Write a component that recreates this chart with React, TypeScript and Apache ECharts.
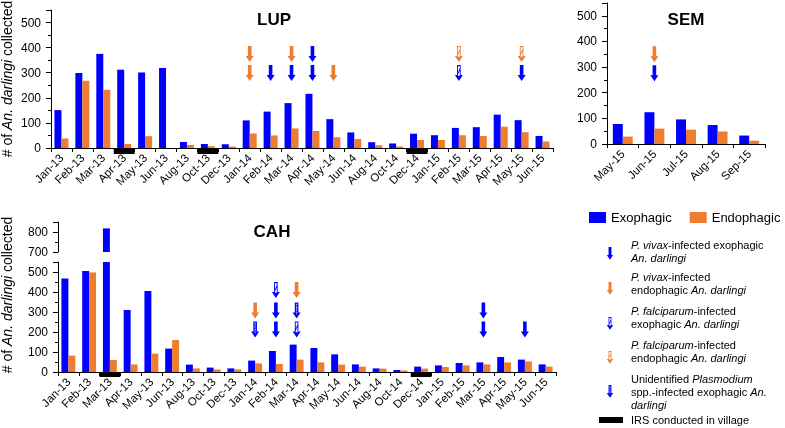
import React, { useEffect, useRef } from 'react';
import * as echarts from 'echarts';

// months shared by the LUP and CAH panels
const months = [
  'Jan-13', 'Feb-13', 'Mar-13', 'Apr-13', 'May-13', 'Jun-13', 'Aug-13', 'Oct-13',
  'Dec-13', 'Jan-14', 'Feb-14', 'Mar-14', 'Apr-14', 'May-14', 'Jun-14', 'Aug-14',
  'Oct-14', 'Dec-14', 'Jan-15', 'Feb-15', 'Mar-15', 'Apr-15', 'May-15', 'Jun-15',
];
const semMonths = ['May-15', 'Jun-15', 'Jul-15', 'Aug-15', 'Sep-15'];

const lupExo = [151, 299, 375, 312, 301, 319, 24, 16, 15, 110, 145, 179, 216, 115, 62, 23, 18, 57, 51, 80, 83, 133, 111, 48];
const lupEndo = [38, 268, 232, 16, 47, 0, 12, 7, 6, 58, 50, 78, 68, 43, 36, 11, 6, 32, 32, 51, 48, 85, 63, 26];
const semExo = [78, 124, 96, 74, 33];
const semEndo = [29, 60, 56, 49, 13];
const cahExo = [468, 505, 818, 310, 405, 117, 37, 22, 18, 57, 105, 137, 120, 88, 38, 18, 10, 27, 33, 45, 48, 75, 62, 38];
const cahEndo = [82, 498, 60, 38, 92, 160, 18, 13, 13, 43, 40, 62, 48, 37, 27, 17, 8, 17, 25, 33, 38, 48, 53, 27];

// months with indoor residual spraying
const lupIrs = ['Apr-13', 'Oct-13', 'Dec-14'];
const cahIrs = ['Mar-13', 'Dec-14'];

// infected mosquitoes: [month, kind, row (0 = top)]
const lupArrows = [
  ['Jan-14', 'vivaxEndo', 0], ['Jan-14', 'vivaxEndo', 1],
  ['Feb-14', 'vivaxExo', 1],
  ['Mar-14', 'vivaxEndo', 0], ['Mar-14', 'vivaxExo', 1],
  ['Apr-14', 'vivaxExo', 0], ['Apr-14', 'vivaxExo', 1],
  ['May-14', 'vivaxEndo', 1],
  ['Feb-15', 'falcEndo', 0], ['Feb-15', 'falcExo', 1],
  ['May-15', 'falcEndo', 0], ['May-15', 'vivaxExo', 1],
];
const semArrows = [['Jun-15', 'vivaxEndo', 0], ['Jun-15', 'vivaxExo', 1]];
const cahArrows = [
  ['Jan-14', 'vivaxEndo', 1], ['Jan-14', 'unidExo', 2],
  ['Feb-14', 'falcExo', 0], ['Feb-14', 'vivaxExo', 1], ['Feb-14', 'vivaxExo', 2],
  ['Mar-14', 'vivaxEndo', 0], ['Mar-14', 'unidExo', 1], ['Mar-14', 'falcExo', 2],
  ['Mar-15', 'vivaxExo', 1], ['Mar-15', 'vivaxExo', 2],
  ['May-15', 'vivaxExo', 2],
];
// value level of each arrow row
const lupRows = [375, 299];
const semRows = [350, 276];
const cahRows = [410, 307, 213];

const BLUE = '#0000ff';
const ORANGE = '#ed7d31';
const FONT = '"Liberation Sans", Arial, sans-serif';

const ARROW = 'M2.2,0L5.8,0L5.8,10L8,10L4,16L0,10L2.2,10Z';
// tiny corner triangles keep the overlay's bounding box equal to the arrow's
const FRAME = 'M0,0L0.15,0L0,0.15ZM8,16L7.85,16L8,15.85Z';
const FALC = FRAME + 'M3.1,1.2L4.9,1.2L4.9,3.2L3.1,7.2ZM4.9,5.4L4.9,10.8L3.1,10.8L3.1,9.4Z';
const DOT_Y = [1.2, 2.8, 4.4, 6, 7.6, 9.2, 10.8];
const DOTS = FRAME + DOT_Y.map((y) => `M3.5,${y}L4.5,${y}L4.5,${y + 0.9}L3.5,${y + 0.9}Z`).join('');

const KINDS: Record<string, { color: string; overlay: string | null }> = {
  vivaxExo: { color: BLUE, overlay: null },
  vivaxEndo: { color: ORANGE, overlay: null },
  falcExo: { color: BLUE, overlay: FALC },
  falcEndo: { color: ORANGE, overlay: FALC },
  unidExo: { color: BLUE, overlay: DOTS },
};

const valueAxis = (grid: number, min: number, max: number) => ({
  type: 'value', gridIndex: grid, min, max, interval: 100,
  axisLine: { show: true, lineStyle: { color: '#000' } },
  axisTick: { show: true, length: 5, lineStyle: { color: '#000' } },
  minorTick: { show: true, splitNumber: 2, length: 3, lineStyle: { color: '#000' } },
  splitLine: { show: false },
  axisLabel: {
    fontSize: 12, color: '#000', fontFamily: FONT, margin: 10,
    formatter: (v: number) => (v % 100 === 0 ? String(v) : ''),
  },
});

const catAxis = (grid: number, data: string[], show = true) => ({
  type: 'category', gridIndex: grid, data, show,
  axisLine: { show, lineStyle: { color: '#000' } },
  axisTick: { show, length: 4, interval: 0, lineStyle: { color: '#000' } },
  axisLabel: { show, interval: 0, rotate: 45, fontSize: 11.5, color: '#000', fontFamily: FONT, margin: 8 },
});

const hiddenValue = (grid: number, min: number, max: number) => ({
  type: 'value', gridIndex: grid, min, max, show: false, splitLine: { show: false },
});

const bar = (name: string, data: (number | string)[], color: string, axis: number, gap: string) => ({
  type: 'bar', name, data, xAxisIndex: axis, yAxisIndex: axis,
  itemStyle: { color }, barGap: '0%', barCategoryGap: gap, silent: true,
});

const arrowSeries = (marks: (string | number)[][], rows: number[], axis: number) => {
  const out: any[] = [];
  Object.keys(KINDS).forEach((kind) => {
    const data = marks.filter((m) => m[1] === kind).map((m) => [m[0], rows[m[2] as number]]);
    if (!data.length) return;
    const k = KINDS[kind];
    const base = {
      type: 'scatter', xAxisIndex: axis, yAxisIndex: axis, data, symbolSize: [8, 16], silent: true,
    };
    out.push({ ...base, symbol: 'path://' + ARROW, itemStyle: { color: k.color, opacity: 1 }, z: 5 });
    if (k.overlay) out.push({ ...base, symbol: 'path://' + k.overlay, itemStyle: { color: '#fff', opacity: 1 }, z: 6 });
  });
  return out;
};

const legendArrow = (cx: number, top: number, kind: string) => {
  const s = 0.8;
  const k = KINDS[kind];
  const children: any[] = [{
    type: 'polygon',
    shape: { points: [[2.2, 0], [5.8, 0], [5.8, 10], [8, 10], [4, 16], [0, 10], [2.2, 10]] },
    style: { fill: k.color },
  }];
  if (kind.startsWith('falc')) {
    children.push(
      { type: 'polygon', shape: { points: [[3.1, 1.2], [4.9, 1.2], [4.9, 3.2], [3.1, 7.2]] }, style: { fill: '#fff' } },
      { type: 'polygon', shape: { points: [[4.9, 5.4], [4.9, 10.8], [3.1, 10.8], [3.1, 9.4]] }, style: { fill: '#fff' } },
    );
  }
  if (kind === 'unidExo') {
    DOT_Y.forEach((y) => children.push({ type: 'rect', shape: { x: 3.5, y, width: 1, height: 0.9 }, style: { fill: '#fff' } }));
  }
  return { type: 'group', x: cx - 4 * s, y: top, scaleX: s, scaleY: s, silent: true, children };
};

const richLegend = {
  n: { fontSize: 11, fontFamily: FONT, lineHeight: 12.8, fill: '#000' },
  i: { fontSize: 11, fontFamily: FONT, lineHeight: 12.8, fontStyle: 'italic', fill: '#000' },
};
const legendText = (top: number, text: string) => ({
  type: 'text', x: 631, y: top, silent: true,
  style: { text, rich: richLegend, align: 'left', verticalAlign: 'top' },
});

const yTitle = (y: number) => ({
  type: 'text', x: 7, y, rotation: Math.PI / 2, silent: true,
  style: {
    text: '{n|# of }{i|An. darlingi}{n| collected}',
    align: 'center', verticalAlign: 'middle',
    rich: {
      n: { fontSize: 14, fontFamily: FONT, fill: '#000' },
      i: { fontSize: 14, fontFamily: FONT, fontStyle: 'italic', fill: '#000' },
    },
  },
});

const panelTitle = (x: number, y: number, text: string) => ({
  type: 'text', x, y, silent: true,
  style: { text, font: `bold 17px ${FONT}`, fill: '#000', align: 'center', verticalAlign: 'middle' },
});

export default function App() {
  const ref = useRef<HTMLDivElement>(null);

  useEffect(() => {
    if (!ref.current) return;
    const chart = echarts.init(ref.current, null, { renderer: 'svg' });
    const gridBase = { outerBoundsMode: 'none', containLabel: false };

    chart.setOption({
      animation: false,
      textStyle: { fontFamily: FONT },
      grid: [
        { ...gridBase, left: 51, top: 10, width: 502, height: 138 }, // LUP
        { ...gridBase, left: 607, top: 3, width: 158, height: 141 }, // SEM
        { ...gridBase, left: 58, top: 262, width: 498, height: 110 }, // CAH lower
        { ...gridBase, left: 58, top: 222, width: 498, height: 30 }, // CAH upper
        { ...gridBase, left: 51, top: 148, width: 502, height: 6 }, // LUP IRS
        { ...gridBase, left: 58, top: 372, width: 498, height: 5 }, // CAH IRS
      ],
      xAxis: [
        catAxis(0, months),
        catAxis(1, semMonths),
        catAxis(2, months),
        catAxis(3, months, false),
        catAxis(4, months, false),
        catAxis(5, months, false),
      ],
      yAxis: [
        valueAxis(0, 0, 550),
        valueAxis(1, 0, 550),
        valueAxis(2, 0, 550),
        valueAxis(3, 700, 850),
        hiddenValue(4, 0, 1),
        hiddenValue(5, 0, 1),
      ],
      legend: {
        data: ['Exophagic', 'Endophagic'], left: 589, top: 211, width: 196, padding: 0,
        icon: 'rect', itemWidth: 17, itemHeight: 11, itemGap: 18, selectedMode: false,
        textStyle: { fontSize: 13, color: '#000', fontFamily: FONT },
      },
      series: [
        bar('Exophagic', lupExo, BLUE, 0, '33%'),
        bar('Endophagic', lupEndo, ORANGE, 0, '33%'),
        bar('Exophagic', semExo, BLUE, 1, '37%'),
        bar('Endophagic', semEndo, ORANGE, 1, '37%'),
        bar('Exophagic', cahExo, BLUE, 2, '33%'),
        bar('Endophagic', cahEndo, ORANGE, 2, '33%'),
        bar('Exophagic', cahExo.map((v) => (v > 550 ? v : '-')), BLUE, 3, '33%'),
        bar('Endophagic', cahEndo.map((v) => (v > 550 ? v : '-')), ORANGE, 3, '33%'),
        bar('IRS', months.map((m) => (lupIrs.includes(m) ? 1 : '-')), '#000', 4, '0%'),
        bar('IRS', months.map((m) => (cahIrs.includes(m) ? 1 : '-')), '#000', 5, '0%'),
        ...arrowSeries(lupArrows, lupRows, 0),
        ...arrowSeries(semArrows, semRows, 1),
        ...arrowSeries(cahArrows, cahRows, 2),
      ],
      graphic: [
        panelTitle(274, 19, 'LUP'),
        panelTitle(686, 19, 'SEM'),
        panelTitle(272, 231, 'CAH'),
        yTitle(79),
        yTitle(295),
        legendArrow(610, 247, 'vivaxExo'),
        legendText(239, '{i|P. vivax}{n|-infected exophagic}\n{i|An. darlingi}'),
        legendArrow(610, 282, 'vivaxEndo'),
        legendText(271, '{i|P. vivax}{n|-infected}\n{n|endophagic }{i|An. darlingi}'),
        legendArrow(610, 317, 'falcExo'),
        legendText(305, '{i|P. falciparum}{n|-infected}\n{n|exophagic }{i|An. darlingi}'),
        legendArrow(610, 351, 'falcEndo'),
        legendText(339, '{i|P. falciparum}{n|-infected}\n{n|endophagic }{i|An. darlingi}'),
        legendArrow(610, 385, 'unidExo'),
        legendText(373, '{n|Unidentified }{i|Plasmodium}\n{n|spp.-infected exophagic }{i|An.}\n{i|darlingi}'),
        { type: 'rect', silent: true, shape: { x: 599, y: 417, width: 24, height: 6 }, style: { fill: '#000' } },
        legendText(414, '{n|IRS conducted in village}'),
      ],
    });

    return () => chart.dispose();
  }, []);

  return <div ref={ref} style={{ position: 'fixed', left: 0, top: 0, width: 785, height: 428 }} />;
}
